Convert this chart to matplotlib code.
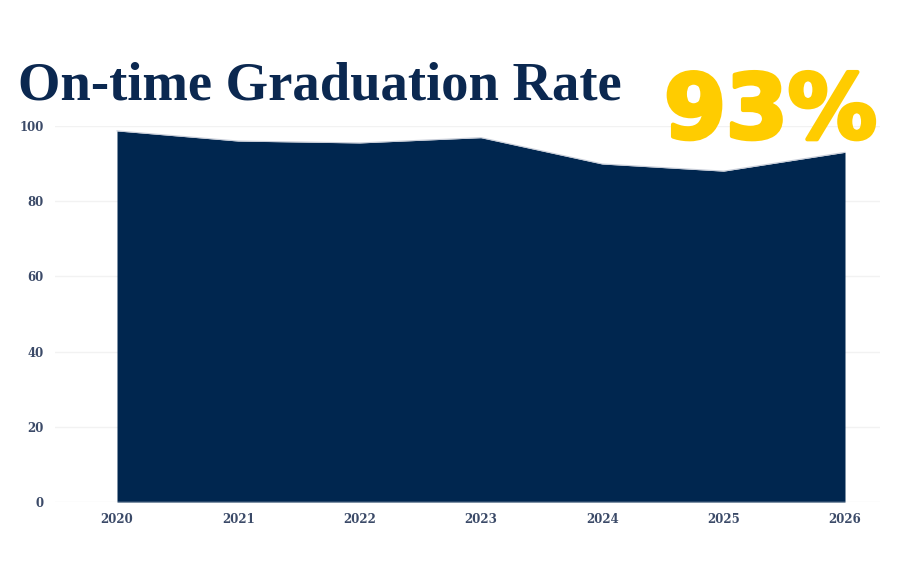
import matplotlib
matplotlib.use("Agg")
import matplotlib.pyplot as plt
import matplotlib.patheffects as pe

years = [2020, 2021, 2022, 2023, 2024, 2025, 2026]
rates = [98.7, 96.0, 95.5, 96.9, 89.9, 88.0, 93.0]
y_ticks = [0, 20, 40, 60, 80, 100]
title_text = "On-time Graduation Rate"
headline = "93%"

W, H = 902, 588
fig = plt.figure(figsize=(W / 100, H / 100), dpi=100)
fig.patch.set_facecolor("white")

left_px, right_px = 55, 880
x0_px, x1_px = 117, 845
per_year = (x1_px - x0_px) / (years[-1] - years[0])
xmin = years[0] - (x0_px - left_px) / per_year
xmax = years[-1] + (right_px - x1_px) / per_year
ax = fig.add_axes([left_px / W, (H - 502) / H, (right_px - left_px) / W, (502 - 126) / H])
ax.set_xlim(xmin, xmax)
ax.set_ylim(0, 100)

navy = "#00264f"
ax.fill_between(years, rates, 0, color=navy, linewidth=0, zorder=2)
ax.plot(years, rates, color="#c8cdd8", linewidth=0.8, zorder=3)
ax.plot([years[0], years[-1]], [0, 0], color="#c8cdd8", linewidth=1.0, zorder=3)

ax.set_yticks(y_ticks)
ax.set_xticks(years)
ax.grid(axis="y", color="#f2f2f2", linewidth=1.0, zorder=0)
ax.grid(axis="x", visible=False)
for s in ax.spines.values():
    s.set_visible(False)
ax.tick_params(length=0, pad=8, labelcolor="#3b4a68")
for lab in ax.get_xticklabels() + ax.get_yticklabels():
    lab.set_fontfamily("DejaVu Serif")
    lab.set_fontweight("bold")
    lab.set_fontsize(8.5)

t = fig.text(18 / W, 1 - 100 / H, title_text, fontfamily="Liberation Serif", fontweight="bold",
             fontsize=40, color="#0b2850", ha="left", va="baseline")
fig.canvas.draw()
r = fig.canvas.get_renderer()
wpx = t.get_window_extent(r).width
t.set_fontsize(40 * 604 / wpx)

fig.text(877 / W, 1 - 138 / H, headline, fontfamily="DejaVu Sans", fontweight="heavy",
         fontsize=64, color="#ffcc00", ha="right", va="baseline",
         path_effects=[pe.withStroke(linewidth=3, foreground="#ffcc00")])

fig.savefig("out.png", dpi=100, facecolor="white")
